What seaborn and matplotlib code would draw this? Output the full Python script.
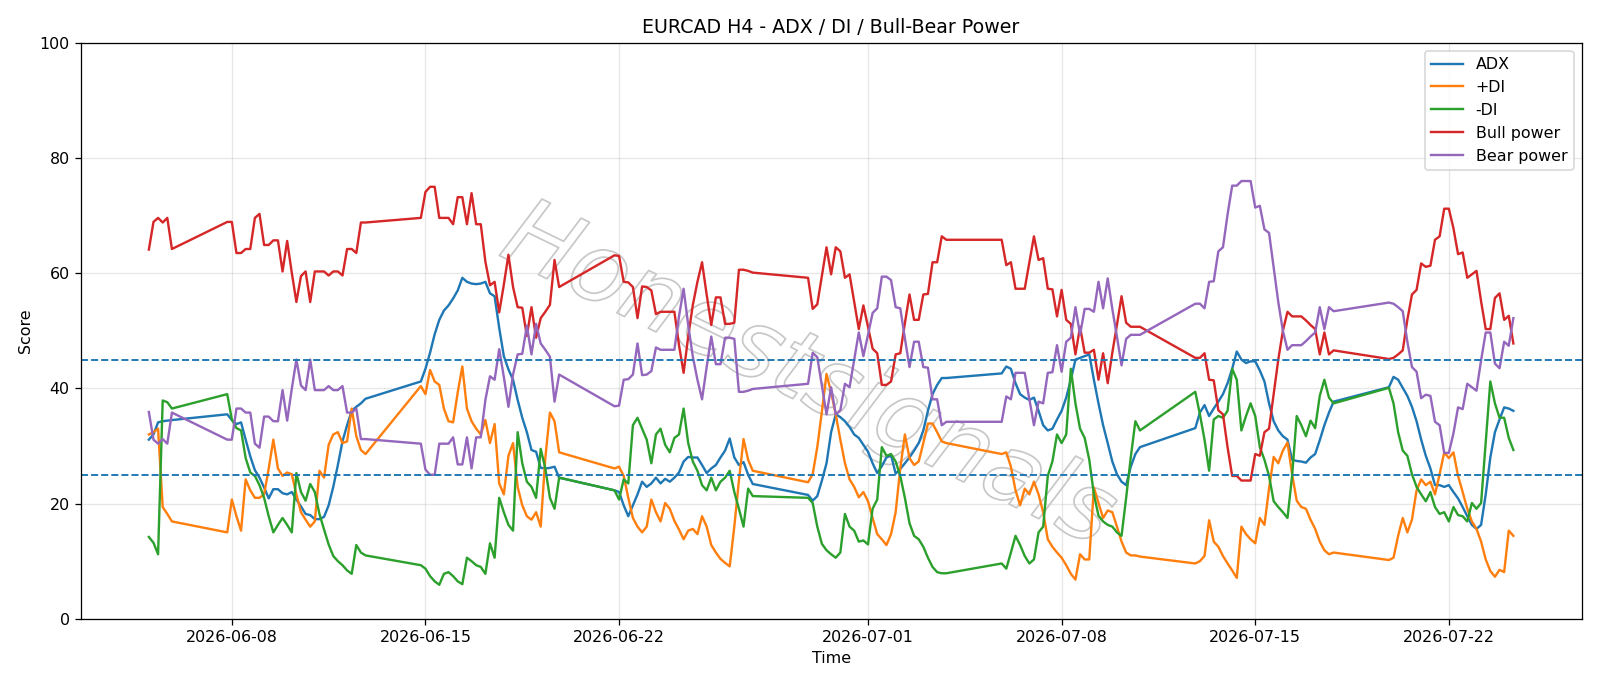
import matplotlib
matplotlib.use("Agg")
import matplotlib.pyplot as plt
import matplotlib.dates as mdates
import matplotlib.patheffects as pe
import seaborn as sns
import numpy as np
import pandas as pd

title = "EURCAD H4 - ADX / DI / Bull-Bear Power"
series_names = ["ADX", "+DI", "-DI", "Bull power", "Bear power"]
colors = ["#1f77b4", "#ff7f0e", "#2ca02c", "#d62728", "#9467bd"]
levels = [25, 45]

# H4 bars: Mon-Fri plus the Sunday 20:00 open bar
bars = pd.date_range("2026-06-05 00:00", "2026-07-24 08:00", freq="4h")
bars = bars[(bars.dayofweek < 5) | ((bars.dayofweek == 6) & (bars.hour == 20))]

adx = [
    31.1, 32.0, 34.1, 34.3, 34.4, 34.5,
    35.5,
    34.5, 33.8, 34.1, 31.1, 28.2, 25.8,
    24.5, 22.8, 20.9, 22.5, 22.5, 21.8,
    21.6, 22.0, 20.7, 19.5, 18.2, 18.0,
    17.3, 17.3, 17.7, 19.7, 22.9, 26.7,
    30.8, 33.6, 36.1, 36.8, 37.4, 38.2,
    41.2,
    43.4, 46.2, 49.4, 51.9, 53.5, 54.4,
    55.6, 57.0, 59.2, 58.5, 58.2, 58.1,
    58.2, 58.5, 56.5, 56.0, 50.5, 45.6,
    43.3, 41.5, 38.0, 34.9, 32.4, 29.3,
    29.0, 26.2, 26.1, 26.2, 26.4, 24.5,
    22.3,
    22.0, 19.7, 17.8, 19.7, 21.6, 23.8,
    22.9, 23.5, 24.5, 23.5, 24.3, 23.8,
    24.5, 25.4, 27.3, 28.1, 28.0, 28.0,
    26.7, 25.3, 26.1, 26.7, 28.0, 29.2,
    31.3, 28.0, 26.7, 27.2, 25.0, 23.4,
    21.5,
    20.5, 21.3, 24.0, 27.0, 32.4, 35.5,
    35.0, 34.3, 33.3, 32.0, 31.4, 30.2,
    29.0, 27.0, 25.3, 26.5, 28.0, 28.4,
    25.2, 26.0, 27.0, 28.0, 29.2, 30.5,
    32.7, 36.1, 39.0, 40.6, 41.8, 41.8,
    42.6,
    43.8, 43.4, 40.9, 39.0, 38.4, 38.0,
    38.4, 36.1, 33.6, 32.7, 33.0, 34.6,
    36.1, 38.4, 41.5, 45.0, 45.3, 45.6,
    45.9, 41.5, 37.4, 33.6, 30.5, 27.3,
    25.1, 23.8, 23.2, 26.4, 28.6, 29.8,
    33.1,
    35.8, 37.1, 35.2, 36.5, 37.7, 39.0,
    40.9, 43.4, 46.4, 45.0, 44.4, 44.7,
    44.7, 43.1, 41.2, 37.4, 34.3, 32.7,
    31.7, 31.1, 27.6, 27.4, 27.3, 27.1,
    28.0, 28.6, 31.0, 33.6, 35.8, 37.7,
    40.2,
    42.0, 41.5, 40.1, 38.7, 36.8, 34.3,
    31.1, 28.3, 26.1, 23.2, 23.2, 22.9,
    23.2, 22.0, 20.9, 19.4, 17.8, 16.3,
    15.6, 16.3, 21.6, 28.0, 32.4, 34.6,
    36.7, 36.5, 36.1,
]

plus_di = [
    32.0, 32.4, 33.0, 19.4, 18.2, 16.9,
    15.0,
    20.7, 17.8, 15.3, 24.2, 22.3, 21.0,
    21.0, 21.6, 26.1, 31.1, 26.1, 24.8,
    25.4, 25.1, 21.6, 18.5, 17.2, 16.0,
    16.9, 25.7, 24.5, 30.2, 32.0, 32.4,
    30.5, 30.8, 36.5, 31.7, 29.3, 28.6,
    40.4,
    39.0, 43.2, 41.2, 40.6, 36.5, 34.3,
    34.1, 39.3, 43.8, 36.5, 34.3, 33.0,
    32.0, 34.5, 30.5, 33.8, 23.5, 21.6,
    28.3, 30.5, 22.9, 19.7, 17.8, 17.2,
    18.5, 16.0, 27.9, 35.8, 34.3, 28.9,
    26.1,
    26.4, 24.8, 21.0, 17.5, 16.0, 15.0,
    16.0, 20.7, 18.5, 16.9, 20.1, 19.1,
    17.0, 15.5, 13.8, 15.3, 15.6, 14.7,
    17.8, 16.0, 12.8, 11.5, 10.4, 9.7,
    9.1, 16.0, 24.0, 31.2, 27.6, 25.7,
    23.7,
    25.1, 29.8, 36.0, 42.5, 39.3, 35.5,
    31.1, 27.0, 24.2, 22.9, 21.1, 22.0,
    20.4, 17.5, 14.7, 13.8, 12.8, 14.7,
    18.5, 26.1, 32.0, 27.9, 26.7, 27.3,
    30.5, 33.9, 33.9, 32.4, 30.8, 30.5,
    28.6,
    28.9, 26.4, 22.3, 19.7, 22.6, 21.6,
    23.8, 21.6, 18.5, 13.8, 12.5, 11.5,
    10.6, 9.3, 7.8, 6.8, 11.2, 10.3,
    10.3, 22.8, 20.1, 17.5, 18.8, 18.5,
    16.0, 13.4, 11.5, 11.0, 11.0, 10.8,
    9.6,
    10.0, 10.9, 17.1, 13.4, 12.5, 10.9,
    9.6, 8.4, 7.1, 16.0, 14.7, 13.8,
    13.1, 17.5, 16.3, 22.6, 28.1, 27.0,
    29.2, 30.6, 25.1, 20.5, 19.4, 19.1,
    17.2, 15.6, 13.4, 11.9, 11.2, 11.5,
    10.2,
    10.6, 14.4, 17.5, 15.0, 17.2, 22.3,
    24.2, 23.2, 23.8, 21.6, 25.1, 28.9,
    27.9, 28.9, 24.8, 22.0, 19.1, 16.9,
    15.6, 13.4, 10.3, 8.3, 7.3, 8.5,
    8.1, 15.3, 14.4,
]

minus_di = [
    14.2, 13.2, 11.2, 37.9, 37.6, 36.5,
    39.0,
    34.6, 33.1, 32.7, 27.9, 25.4, 24.8,
    23.2, 21.0, 17.8, 15.0, 16.3, 17.5,
    16.3, 15.0, 25.3, 22.0, 20.5, 23.4,
    22.0, 18.2, 15.5, 12.9, 10.9, 10.0,
    9.3, 8.4, 7.8, 12.8, 11.5, 11.0,
    9.3,
    8.7, 7.4, 6.5, 5.9, 7.8, 8.1,
    7.4, 6.5, 6.0, 10.6, 10.0, 9.3,
    9.0, 7.8, 13.1, 10.6, 21.0, 18.5,
    16.3, 15.3, 32.4, 27.0, 23.8, 22.9,
    21.0, 29.5, 26.1, 21.0, 19.1, 24.5,
    22.3,
    20.7, 24.2, 23.5, 33.6, 34.9, 33.0,
    31.1, 27.0, 32.0, 33.0, 30.2, 28.9,
    31.4, 32.0, 36.5, 30.5, 27.3, 25.7,
    23.2, 22.3, 24.5, 22.3, 23.8, 24.5,
    25.7, 22.0, 19.1, 16.0, 22.6, 21.3,
    21.0,
    20.1, 16.0, 13.0, 11.9, 11.2, 10.6,
    11.5, 18.2, 16.0, 15.3, 13.4, 13.6,
    12.9, 19.1, 20.7, 29.8, 28.3, 28.6,
    27.3, 24.8, 21.0, 16.6, 14.4, 13.8,
    12.5, 10.6, 9.0, 8.1, 7.9, 7.9,
    9.6,
    8.7, 11.5, 14.4, 12.8, 10.9, 9.6,
    10.3, 15.0, 16.0, 24.8, 27.3, 32.0,
    30.5, 32.0, 43.4, 37.4, 33.0, 31.4,
    27.6, 21.6, 17.9, 16.9, 16.3, 16.0,
    15.0, 14.4, 21.0, 28.0, 34.3, 32.7,
    39.4,
    35.5, 31.1, 25.7, 34.6, 35.2, 34.9,
    36.1, 43.4, 41.5, 32.7, 35.2, 37.4,
    35.2, 29.8, 27.6, 24.8, 20.4, 19.4,
    18.5, 17.5, 24.8, 35.2, 33.6, 31.7,
    34.4, 33.1, 38.7, 41.5, 38.4, 37.4,
    40.1,
    37.4, 32.4, 29.2, 28.3, 25.1, 22.9,
    21.6, 20.4, 22.0, 19.4, 18.2, 18.5,
    16.9, 19.4, 18.0, 17.8, 16.9, 20.1,
    19.1, 20.1, 30.6, 41.2, 37.4, 34.9,
    34.9, 31.4, 29.3,
]

bull_power = [
    64.1, 68.9, 69.6, 68.8, 69.6, 64.2,
    68.9,
    68.9, 63.5, 63.5, 64.2, 64.2, 69.6,
    70.3, 64.9, 64.9, 65.7, 65.7, 60.3,
    65.6, 60.1, 55.0, 59.5, 60.3, 55.0,
    60.3, 60.3, 60.3, 59.6, 60.3, 60.3,
    59.6, 64.2, 64.2, 63.5, 68.8, 68.8,
    69.6,
    74.1, 75.0, 75.0, 69.6, 69.6, 69.6,
    68.5, 73.2, 73.2, 68.5, 73.9, 68.5,
    68.5, 62.0, 57.9, 58.5, 53.2, 58.0,
    63.2, 57.6, 54.1, 54.0, 49.1, 54.1,
    48.8, 52.2, 53.3, 54.5, 62.3, 57.6,
    63.1,
    63.0, 58.5, 58.4, 57.6, 52.2, 57.7,
    57.6, 57.0, 52.9, 53.3, 53.3, 53.3,
    53.3, 47.5, 42.7, 49.0, 54.5, 58.5,
    61.9, 56.3, 51.0, 55.8, 55.8, 51.2,
    51.2, 51.4, 60.6, 60.6, 60.4, 60.1,
    59.2,
    53.8, 54.6, 59.5, 64.5, 59.8, 64.5,
    63.8, 59.2, 59.8, 55.1, 50.3, 54.4,
    50.7, 46.9, 46.1, 40.6, 40.6, 41.2,
    45.9, 46.1, 51.3, 56.3, 51.9, 51.9,
    56.3, 56.4, 61.9, 61.9, 66.4, 65.8,
    65.8,
    61.4, 61.9, 57.3, 57.3, 57.3, 61.8,
    66.4, 62.3, 62.6, 57.3, 57.2, 52.5,
    57.1, 51.9, 51.2, 45.9, 50.7, 46.2,
    46.2, 46.7, 41.5, 46.1, 40.9, 46.2,
    51.0, 56.0, 51.4, 50.7, 50.7, 50.7,
    45.3,
    45.3, 46.1, 41.5, 41.4, 36.2, 35.5,
    29.8, 24.8, 24.8, 24.0, 24.0, 24.0,
    28.6, 28.3, 32.4, 33.0, 39.0, 45.0,
    50.0, 53.3, 52.5, 52.5, 52.5, 51.8,
    51.0, 50.3, 45.9, 49.7, 45.9, 46.6,
    45.1,
    45.3, 45.9, 46.6, 51.9, 56.3, 57.1,
    61.7, 61.1, 61.3, 65.8, 66.4, 71.2,
    71.2, 67.8, 63.3, 63.6, 59.2, 59.8,
    60.4, 55.1, 50.3, 50.3, 55.7, 56.5,
    51.9, 52.6, 47.8,
]

bear_power = [
    35.9, 31.1, 30.4, 31.2, 30.4, 35.8,
    31.1,
    31.1, 36.5, 36.5, 35.8, 35.8, 30.4,
    29.7, 35.1, 35.1, 34.3, 34.3, 39.7,
    34.4, 39.9, 45.0, 40.5, 39.7, 45.0,
    39.7, 39.7, 39.7, 40.4, 39.7, 39.7,
    40.4, 35.8, 35.8, 36.5, 31.2, 31.2,
    30.4,
    25.9, 25.0, 25.0, 30.4, 30.4, 30.4,
    31.5, 26.8, 26.8, 31.5, 26.1, 31.5,
    31.5, 38.0, 42.1, 41.5, 46.8, 42.0,
    36.8, 42.4, 45.9, 46.0, 50.9, 45.9,
    51.2, 47.8, 46.7, 45.5, 37.7, 42.4,
    36.9,
    37.0, 41.5, 41.6, 42.4, 47.8, 42.3,
    42.4, 43.0, 47.1, 46.7, 46.7, 46.7,
    46.7, 52.5, 57.3, 51.0, 45.5, 41.5,
    38.1, 43.7, 49.0, 44.2, 44.2, 48.8,
    48.8, 48.6, 39.4, 39.4, 39.6, 39.9,
    40.8,
    46.2, 45.4, 40.5, 35.5, 40.2, 35.5,
    36.2, 40.8, 40.2, 44.9, 49.7, 45.6,
    49.3, 53.1, 53.9, 59.4, 59.4, 58.8,
    54.1, 53.9, 48.7, 43.7, 48.1, 48.1,
    43.7, 43.6, 38.1, 38.1, 33.6, 34.2,
    34.2,
    38.6, 38.1, 42.7, 42.7, 42.7, 38.2,
    33.6, 37.7, 37.4, 42.7, 42.8, 47.5,
    42.9, 48.1, 48.8, 54.1, 49.3, 53.8,
    53.8, 53.3, 58.5, 53.9, 59.1, 53.8,
    49.0, 44.0, 48.6, 49.3, 49.3, 49.3,
    54.7,
    54.7, 53.9, 58.5, 58.6, 63.8, 64.5,
    70.2, 75.2, 75.2, 76.0, 76.0, 76.0,
    71.4, 71.7, 67.6, 67.0, 61.0, 55.0,
    50.0, 46.7, 47.5, 47.5, 47.5, 48.2,
    49.0, 49.7, 54.1, 50.3, 54.1, 53.4,
    54.9,
    54.7, 54.1, 53.4, 48.1, 43.7, 42.9,
    38.3, 38.9, 38.7, 34.2, 33.6, 28.8,
    28.8, 32.2, 36.7, 36.4, 40.8, 40.2,
    39.6, 44.9, 49.7, 49.7, 44.3, 43.5,
    48.1, 47.4, 52.2,
]

wide = pd.DataFrame({
    "Time": bars,
    "ADX": adx,
    "+DI": plus_di,
    "-DI": minus_di,
    "Bull power": bull_power,
    "Bear power": bear_power,
})
df = wide.melt(id_vars="Time", var_name="series", value_name="Score")

dpi = 1600 / 14
fig, ax = plt.subplots(figsize=(14, 686 / dpi), dpi=dpi)
fig.subplots_adjust(left=0.0504, right=0.9885, bottom=0.098, top=0.9376)

sns.lineplot(data=df, x="Time", y="Score", hue="series", hue_order=series_names,
             palette=dict(zip(series_names, colors)), linewidth=1.5, ax=ax)

for lv in levels:
    ax.axhline(lv, color=colors[0], linestyle="--", linewidth=1.2)

# watermark, outline only
ax.text(0.485, 0.42, "Honestsignals", transform=ax.transAxes, rotation=-26,
        fontsize=60, style="italic", color=(1, 1, 1, 0), ha="center", va="center",
        zorder=1.5, path_effects=[pe.Stroke(linewidth=1.1, foreground="#c8c8c8"), pe.Normal()])

ax.set_ylim(0, 100)
ax.xaxis.set_major_locator(mdates.DayLocator(bymonthday=[1, 8, 15, 22]))
ax.xaxis.set_major_formatter(mdates.DateFormatter("%Y-%m-%d"))
ax.grid(True, alpha=0.3)
ax.set_axisbelow(True)
ax.set_title(title)
ax.set_xlabel("Time")
ax.set_ylabel("Score")
sns.move_legend(ax, "upper right", title=None)

fig.savefig("out.png", dpi=dpi)
